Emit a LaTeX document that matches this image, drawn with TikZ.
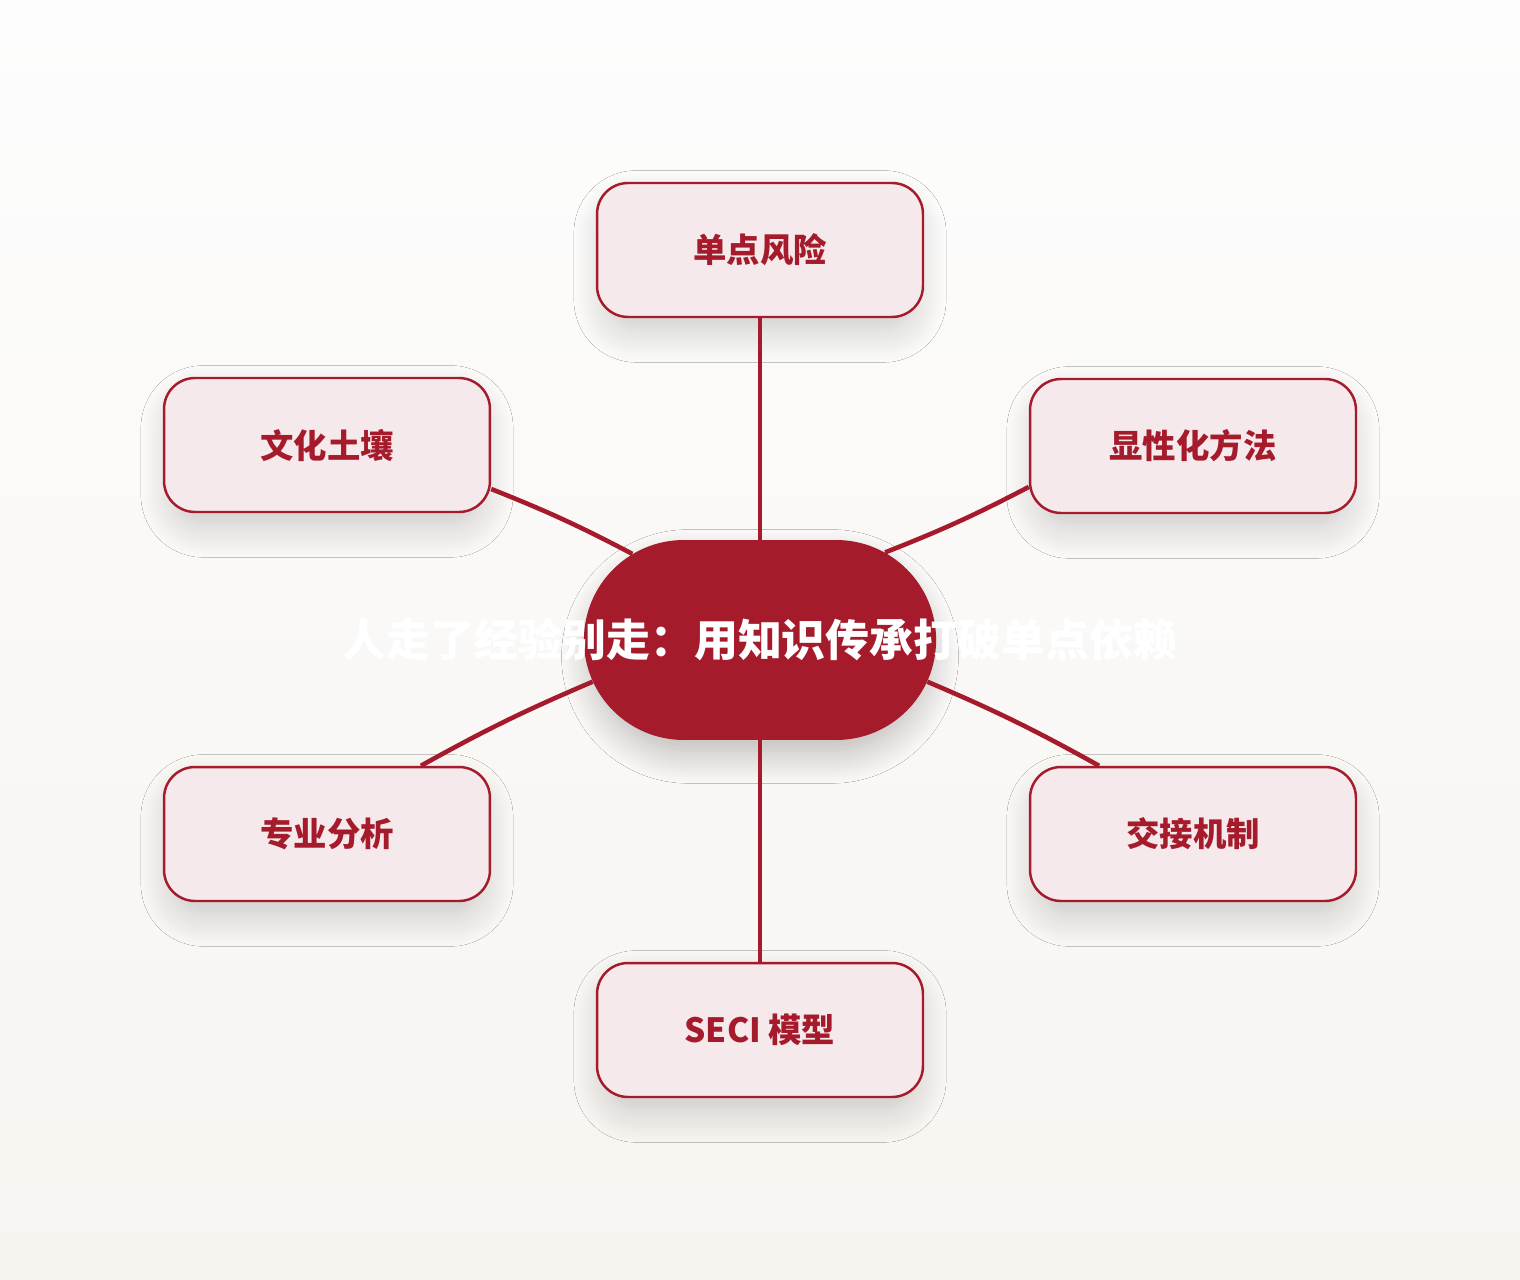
\documentclass[tikz,border=0pt]{standalone}
\usepackage{fontspec}
\newfontfamily\cjk{Noto Sans CJK SC}
\usetikzlibrary{calc, shapes.misc, shadows.blur}

\definecolor{deepred}{HTML}{A51B2B}
\definecolor{palerose}{HTML}{F5E9EB}
\definecolor{papertop}{HTML}{FDFDFD}
\definecolor{paperbottom}{HTML}{F7F4F0}

\tikzset{
    topic/.style={draw=deepred, line width=1.4pt, fill=palerose, rounded corners=0.62cm,
        minimum width=6.52cm, minimum height=2.68cm, text=deepred,
        font=\cjk\bfseries\fontsize{19pt}{22pt}\selectfont,
        blur shadow={shadow xshift=0pt, shadow yshift=-0.35cm, shadow blur radius=0.7cm,
            shadow blur steps=12, shadow opacity=20, shadow scale=0.94}},
    hub/.style={rounded rectangle, fill=deepred, minimum width=7.28cm, minimum height=4cm,
        blur shadow={shadow xshift=0pt, shadow yshift=-0.35cm, shadow blur radius=0.7cm,
            shadow blur steps=12, shadow opacity=28, shadow scale=0.94}},
    link/.style={draw=deepred, line width=2.6pt}
}

\begin{document}
\begin{tikzpicture}[x=0.02cm, y=-0.02cm]
    \useasboundingbox (0, 0) rectangle (1520, 1280);
    \fill [top color=papertop, bottom color=paperbottom] (0, 0) rectangle (1520, 1280);

    \node [hub] (core) at (760, 640) {};
        \node [topic] (risk) at ($(core) + (0, -390)$) {单点风险};
        \node [topic] (culture) at ($(core) + (-433, -195)$) {文化土壤};
        \node [topic] (explicit) at ($(core) + (433, -194)$) {显性化方法};
        \node [topic] (analysis) at ($(core) + (-433, 194)$) {专业分析};
        \node [topic] (handover) at ($(core) + (433, 194)$) {交接机制};
        \node [topic] (seci) at ($(core) + (0, 390)$) {SECI 模型};

    \draw [link] (risk) -- (core);
    \draw [link] (culture.-15) to[bend left=3] (core.146);
    \draw [link] (explicit.194) to[bend left=3] (core.35);
    \draw [link] (analysis.36) to[bend left=3] (core.194);
    \draw [link] (handover.144) to[bend right=3] (core.-14);
    \draw [link] (seci) -- (core);

    \node [text=white, font=\cjk\bfseries\fontsize{25pt}{30pt}\selectfont] (title) at (core) {人走了经验别走：用知识传承打破单点依赖};
\end{tikzpicture}
\end{document}
